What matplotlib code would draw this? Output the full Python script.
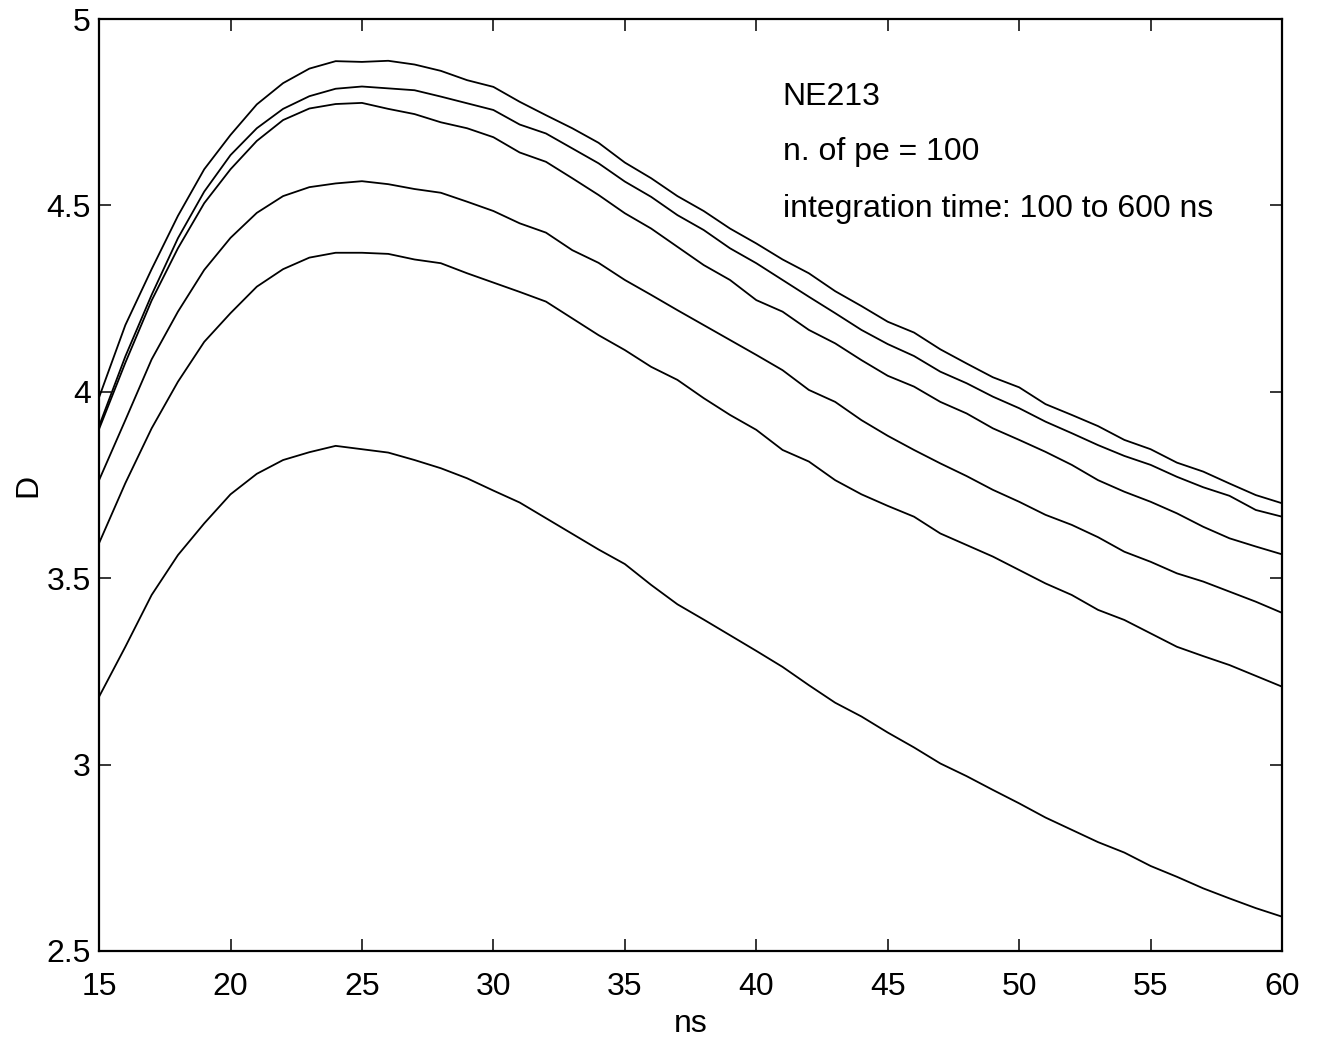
import matplotlib
matplotlib.use("Agg")
import matplotlib.pyplot as plt
import numpy as np

plt.rcParams['font.family'] = ['Liberation Sans', 'DejaVu Sans']

ns = list(range(15, 61))

d1 = [3.985, 4.179, 4.329, 4.472, 4.597, 4.689, 4.771, 4.828, 4.867, 4.887,
      4.885, 4.888, 4.878, 4.861, 4.836, 4.818, 4.778, 4.742, 4.707, 4.668,
      4.615, 4.573, 4.525, 4.485, 4.438, 4.398, 4.355, 4.318, 4.270, 4.230,
      4.188, 4.159, 4.114, 4.076, 4.039, 4.012, 3.967, 3.938, 3.908, 3.871,
      3.846, 3.810, 3.786, 3.754, 3.723, 3.701]
d2 = [3.908, 4.095, 4.260, 4.412, 4.537, 4.635, 4.707, 4.759, 4.793, 4.813,
      4.819, 4.814, 4.809, 4.792, 4.774, 4.756, 4.717, 4.693, 4.653, 4.613,
      4.564, 4.523, 4.474, 4.434, 4.385, 4.345, 4.300, 4.255, 4.211, 4.166,
      4.128, 4.096, 4.054, 4.023, 3.987, 3.956, 3.920, 3.889, 3.857, 3.828,
      3.804, 3.772, 3.744, 3.721, 3.683, 3.665]
d3 = [3.900, 4.078, 4.245, 4.385, 4.506, 4.597, 4.673, 4.729, 4.760, 4.772,
      4.775, 4.759, 4.745, 4.723, 4.707, 4.683, 4.642, 4.617, 4.573, 4.528,
      4.479, 4.438, 4.389, 4.340, 4.300, 4.246, 4.215, 4.166, 4.130, 4.085,
      4.043, 4.014, 3.973, 3.942, 3.902, 3.871, 3.839, 3.804, 3.763, 3.732,
      3.705, 3.674, 3.638, 3.607, 3.585, 3.564]
d4 = [3.763, 3.924, 4.087, 4.215, 4.327, 4.413, 4.480, 4.525, 4.549, 4.559,
      4.565, 4.557, 4.544, 4.534, 4.510, 4.485, 4.452, 4.427, 4.380, 4.346,
      4.300, 4.260, 4.219, 4.179, 4.139, 4.099, 4.058, 4.005, 3.973, 3.924,
      3.882, 3.844, 3.808, 3.774, 3.737, 3.705, 3.670, 3.643, 3.610, 3.571,
      3.544, 3.513, 3.491, 3.464, 3.437, 3.407]
d5 = [3.594, 3.755, 3.902, 4.027, 4.134, 4.211, 4.282, 4.329, 4.360, 4.373,
      4.373, 4.370, 4.355, 4.345, 4.318, 4.293, 4.268, 4.242, 4.197, 4.152,
      4.112, 4.067, 4.032, 3.983, 3.938, 3.898, 3.844, 3.813, 3.763, 3.725,
      3.694, 3.665, 3.620, 3.589, 3.558, 3.522, 3.486, 3.455, 3.415, 3.388,
      3.352, 3.316, 3.291, 3.267, 3.238, 3.209]
d6 = [3.182, 3.316, 3.455, 3.562, 3.647, 3.725, 3.780, 3.817, 3.838, 3.855,
      3.846, 3.837, 3.817, 3.795, 3.768, 3.735, 3.703, 3.661, 3.619, 3.577,
      3.538, 3.482, 3.430, 3.389, 3.347, 3.305, 3.262, 3.213, 3.166, 3.129,
      3.086, 3.046, 3.003, 2.969, 2.932, 2.896, 2.858, 2.825, 2.792, 2.764,
      2.728, 2.699, 2.668, 2.641, 2.615, 2.592]

series = [d1, d2, d3, d4, d5, d6]

xticks = [15, 20, 25, 30, 35, 40, 45, 50, 55, 60]
yticks = [2.5, 3, 3.5, 4, 4.5, 5]
ytick_labels = ["2.5", "3", "3.5", "4", "4.5", "5"]

annotations = ["NE213", "n. of pe = 100", "integration time: 100 to 600 ns"]
ann_y = [4.769, 4.622, 4.469]

FS = 23

fig = plt.figure(figsize=(13.19, 10.40), dpi=100)
ax = fig.add_axes([0.0751, 0.0856, 0.8969, 0.8961])

for s in series:
    ax.plot(ns, s, color='black', linewidth=1.3)

ax.set_xlim(15, 60)
ax.set_ylim(2.5, 5)
ax.set_xticks(xticks)
ax.set_xticklabels([str(t) for t in xticks])
ax.set_yticks(yticks)
ax.set_yticklabels(ytick_labels)

for sp in ax.spines.values():
    sp.set_linewidth(1.6)
    sp.set_color('black')

ax.tick_params(axis='both', which='major', direction='in', length=8.5,
               width=1.1, labelsize=FS, top=True, right=True)
ax.tick_params(axis='x', pad=15)
ax.tick_params(axis='y', pad=6)

ax.set_xlabel("ns", fontsize=FS, labelpad=5)
ax.set_ylabel("D", fontsize=FS, labelpad=2)

for t, yy in zip(annotations, ann_y):
    ax.text(41.0, yy, t, fontsize=FS, ha='left', va='baseline')

fig.savefig("out.png", dpi=100)
